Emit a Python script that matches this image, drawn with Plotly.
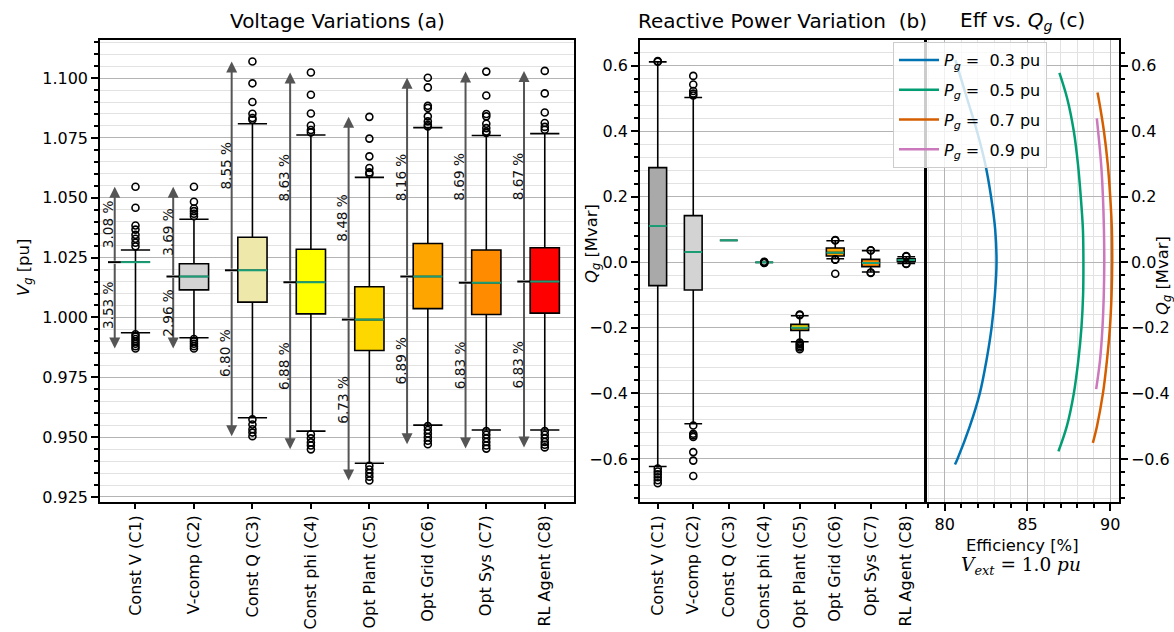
import plotly.graph_objects as go

W, H = 1174, 632

# ---------------- data ----------------
categories = ["Const V (C1)", "V-comp (C2)", "Const Q (C3)", "Const phi (C4)",
              "Opt Plant (C5)", "Opt Grid (C6)", "Opt Sys (C7)", "RL Agent (C8)"]
positions = [1, 2, 3, 4, 5, 6, 7, 8]
fill_colors = ["#a9a9a9", "#d3d3d3", "#eee8aa", "#ffff00",
               "#ffd700", "#ffa500", "#ff8c00", "#ff0000"]

# Panel (a) voltage statistics
v_q1 = [1.0231, 1.0115, 1.0064, 1.0015, 0.9862, 1.0037, 1.0012, 1.0018]
v_med = [1.0231, 1.0171, 1.0197, 1.0147, 0.9991, 1.0171, 1.0145, 1.0150]
v_q3 = [1.0231, 1.0224, 1.0335, 1.0285, 1.0128, 1.0309, 1.0282, 1.0291]
v_lo = [0.9936, 0.9915, 0.9581, 0.9525, 0.9391, 0.9550, 0.9530, 0.9530]
v_hi = [1.0282, 1.0410, 1.0809, 1.0762, 1.0585, 1.0793, 1.0760, 1.0768]
v_out_hi = [
    [1.0546, 1.0458, 1.0384, 1.0367, 1.0345, 1.0329, 1.0312, 1.0297],
    [1.0546, 1.0483, 1.0455, 1.0444, 1.0433, 1.0423],
    [1.1069, 1.0978, 1.0900, 1.0851, 1.0833, 1.0826],
    [1.1023, 1.0930, 1.0852, 1.0802, 1.0783, 1.0773],
    [1.0838, 1.0747, 1.0673, 1.0624, 1.0606, 1.0599],
    [1.1001, 1.0961, 1.0884, 1.0875, 1.0840, 1.0819, 1.0805, 1.0798],
    [1.1027, 1.0927, 1.0850, 1.0840, 1.0809, 1.0791, 1.0777, 1.0771],
    [1.1030, 1.0936, 1.0856, 1.0812, 1.0796, 1.0784],
]
v_out_lo = [
    [0.9930, 0.9920, 0.9910, 0.9900, 0.9890, 0.9880, 0.9870],
    [0.9910, 0.9900, 0.9890, 0.9880, 0.9870],
    [0.9574, 0.9553, 0.9533, 0.9519, 0.9504],
    [0.9512, 0.9495, 0.9478, 0.9465, 0.9449],
    [0.9380, 0.9365, 0.9350, 0.9335, 0.9319],
    [0.9546, 0.9530, 0.9515, 0.9500, 0.9485, 0.9470],
    [0.9525, 0.9510, 0.9495, 0.9480, 0.9465, 0.9452],
    [0.9525, 0.9510, 0.9495, 0.9480, 0.9468, 0.9457],
]
up_pct = ["3.08", "3.69", "8.55", "8.63", "8.48", "8.16", "8.69", "8.67"]
down_pct = ["3.53", "2.96", "6.80", "6.88", "6.73", "6.89", "6.83", "6.83"]

# Panel (b) reactive power statistics
q_q1 = [-0.071, -0.0846, 0.0672, 0.0, -0.2076, 0.0193, -0.013, 0.003]
q_med = [0.111, 0.0315, 0.0672, 0.0, -0.1995, 0.0296, -0.002, 0.007]
q_q3 = [0.289, 0.1426, 0.0672, 0.0, -0.1893, 0.0437, 0.009, 0.011]
q_lo = [-0.623, -0.4926, 0.0672, 0.0, -0.2425, 0.011, -0.0296, -0.003]
q_hi = [0.6116, 0.503, 0.0672, 0.0, -0.163, 0.066, 0.0357, 0.017]
q_out = [
    [0.614, 0.6125, -0.629, -0.638, -0.647, -0.656, -0.665, -0.674],
    [0.569, 0.5425, 0.523, 0.515, 0.509, -0.498, -0.523, -0.528, -0.533, -0.579, -0.605, -0.652],
    [],
    [0.002, 0.001, -0.001, -0.002],
    [-0.161, -0.159, -0.245, -0.25, -0.255, -0.26, -0.265],
    [0.068, 0.067, 0.009, 0.008, -0.035],
    [0.037, 0.036, -0.031, -0.032],
    [0.018, 0.019, -0.004, -0.005],
]

# Panel (c) efficiency curves (Q [Mvar], efficiency [%])
p_labels = ["0.3", "0.5", "0.7", "0.9"]
p_colors = ["#0173b2", "#029e73", "#d55e00", "#cc78bc"]
curve_q = [
    [-0.617, -0.6, -0.5, -0.4, -0.3, -0.2, -0.1, 0.0, 0.1, 0.2, 0.3, 0.4, 0.5, 0.6, 0.617],
    [-0.577, -0.5, -0.4, -0.3, -0.2, -0.1, 0.0, 0.1, 0.2, 0.3, 0.4, 0.5, 0.578],
    [-0.551, -0.5, -0.4, -0.3, -0.2, -0.1, 0.0, 0.1, 0.2, 0.3, 0.4, 0.5, 0.518],
    [-0.387, -0.3, -0.2, -0.1, 0.0, 0.1, 0.2, 0.3, 0.439],
]
curve_eff = [
    [80.62, 80.77, 81.52, 82.12, 82.52, 82.83, 83.03, 83.13, 83.05, 82.80, 82.45, 81.95, 81.35, 80.75, 80.65],
    [86.87, 87.38, 87.80, 88.07, 88.26, 88.36, 88.38, 88.35, 88.22, 88.05, 87.80, 87.40, 86.93],
    [88.95, 89.20, 89.56, 89.80, 89.98, 90.08, 90.12, 90.10, 90.00, 89.85, 89.62, 89.30, 89.23],
    [89.15, 89.38, 89.53, 89.61, 89.64, 89.62, 89.56, 89.45, 89.19],
]

# ---------------- figure ----------------
FONT = "DejaVu Sans"
fig = go.Figure()

BOX_W = 0.5
MED_GREEN = "#1a9e76"


def add_boxes(xa, ya, q1, med, q3, lo, hi):
    for i, p in enumerate(positions):
        fig.add_trace(go.Box(
            x=[p], q1=[q1[i]], median=[med[i]], q3=[q3[i]],
            lowerfence=[lo[i]], upperfence=[hi[i]],
            width=BOX_W, whiskerwidth=1, boxpoints=False,
            fillcolor=fill_colors[i], line=dict(color="black", width=1.6),
            xaxis=xa, yaxis=ya, showlegend=False, hoverinfo="skip"))


# panel (a)
add_boxes("x", "y", v_q1, v_med, v_q3, v_lo, v_hi)
stub_x, stub_y, med_x, med_y = [], [], [], []
for i, p in enumerate(positions):
    stub_x += [p - 0.47, p - BOX_W / 2, None]
    stub_y += [v_med[i], v_med[i], None]
    med_x += [p - BOX_W / 2, p + BOX_W / 2, None]
    med_y += [v_med[i], v_med[i], None]
fig.add_trace(go.Scatter(x=stub_x, y=stub_y, mode="lines", line=dict(color="black", width=2),
                         xaxis="x", yaxis="y", showlegend=False, hoverinfo="skip"))
fig.add_trace(go.Scatter(x=med_x, y=med_y, mode="lines", line=dict(color=MED_GREEN, width=2),
                         xaxis="x", yaxis="y", showlegend=False, hoverinfo="skip"))
ox, oy = [], []
for i, p in enumerate(positions):
    for v in v_out_hi[i] + v_out_lo[i]:
        ox.append(p)
        oy.append(v)
fig.add_trace(go.Scatter(x=ox, y=oy, mode="markers",
                         marker=dict(symbol="circle-open", size=7, color="black", line=dict(width=1.6)),
                         xaxis="x", yaxis="y", showlegend=False, hoverinfo="skip"))

# panel (b)
add_boxes("x2", "y2", q_q1, q_med, q_q3, q_lo, q_hi)
mx2, my2 = [], []
for i, p in enumerate(positions):
    mx2 += [p - BOX_W / 2, p + BOX_W / 2, None]
    my2 += [q_med[i], q_med[i], None]
fig.add_trace(go.Scatter(x=mx2, y=my2, mode="lines", line=dict(color=MED_GREEN, width=2),
                         xaxis="x2", yaxis="y2", showlegend=False, hoverinfo="skip"))
ox2, oy2 = [], []
for i, p in enumerate(positions):
    for v in q_out[i]:
        ox2.append(p)
        oy2.append(v)
fig.add_trace(go.Scatter(x=ox2, y=oy2, mode="markers",
                         marker=dict(symbol="circle-open", size=7, color="black", line=dict(width=1.6)),
                         xaxis="x2", yaxis="y2", showlegend=False, hoverinfo="skip"))

# panel (c)
for k in range(len(p_labels)):
    fig.add_trace(go.Scatter(
        x=curve_eff[k], y=curve_q[k], mode="lines",
        line=dict(color=p_colors[k], width=2.5, shape="spline"),
        name="<i>P</i><sub><i>g</i></sub> =  " + p_labels[k] + " pu",
        legendgroup=str(k),
        xaxis="x3", yaxis="y3"))

# ---------------- axes ----------------
top_px, bot_px = 40, 502
ydom = [1 - bot_px / H, 1 - top_px / H]
axis_common = dict(showline=True, linecolor="black", linewidth=1.5, mirror=True,
                   ticks="outside", tickcolor="black", tickwidth=1.5,
                   tickfont=dict(family=FONT, size=16, color="black"),
                   zeroline=False, automargin=False)
MAJ_GRID = "#b4b4b4"
MIN_GRID = "#e2e2e2"

fig.update_layout(
    xaxis=dict(domain=[100 / W, 574 / W], range=[0.393, 8.5], tickmode="array",
               tickvals=positions, ticktext=categories, tickangle=-90, ticklen=5,
               showgrid=False, anchor="y", **axis_common),
    yaxis=dict(domain=ydom, range=[0.9229, 1.1159], tick0=0, dtick=0.025, tickformat=".3f",
               ticklen=7, showgrid=True, gridcolor=MAJ_GRID, gridwidth=1.3,
               minor=dict(dtick=0.005, ticks="outside", ticklen=4, tickcolor="black",
                          showgrid=True, gridcolor=MIN_GRID, gridwidth=1.3),
               anchor="x", **axis_common),
    xaxis2=dict(domain=[640 / W, 924 / W], range=[0.5, 8.5], tickmode="array",
                tickvals=positions, ticktext=categories, tickangle=-90, ticklen=5,
                showgrid=False, anchor="y2", **axis_common),
    yaxis2=dict(domain=ydom, range=[-0.7313, 0.6785], tick0=0, dtick=0.2, tickformat=".1f",
                ticklen=7, showgrid=True, gridcolor=MAJ_GRID, gridwidth=1.3,
                minor=dict(dtick=0.04, ticks="outside", ticklen=4, tickcolor="black",
                           showgrid=True, gridcolor=MIN_GRID, gridwidth=1.3),
                anchor="x2", **axis_common),
    xaxis3=dict(domain=[927 / W, 1119 / W], range=[78.93, 90.53], tick0=0, dtick=5,
                ticklen=7, showgrid=True, gridcolor=MAJ_GRID, gridwidth=1.3,
                minor=dict(dtick=1, ticks="outside", ticklen=4, tickcolor="black",
                           showgrid=True, gridcolor=MIN_GRID, gridwidth=1.3),
                anchor="y3", **axis_common),
    yaxis3=dict(domain=ydom, range=[-0.7313, 0.6785], tick0=0, dtick=0.2, tickformat=".1f",
                side="right", ticklen=7, showgrid=True, gridcolor=MAJ_GRID, gridwidth=1.3,
                minor=dict(dtick=0.04, ticks="outside", ticklen=4, tickcolor="black",
                           showgrid=True, gridcolor=MIN_GRID, gridwidth=1.3),
                anchor="x3", **axis_common),
)

# ---------------- annotations ----------------
ann = []


def paper_text(text, xp, yp, size, angle=0, family=FONT):
    ann.append(dict(text=text, x=xp / W, y=1 - yp / H, xref="paper", yref="paper",
                    showarrow=False, xanchor="center", yanchor="middle", textangle=angle,
                    font=dict(family=family, size=size, color="black")))


paper_text("Voltage Variations (a)", 337, 21, 20)
paper_text("Reactive Power Variation  (b)", 782, 21, 20)
paper_text("Eff vs. <i>Q</i><sub><i>g</i></sub> (c)", 1022, 21, 20)
paper_text("<i>V</i><sub><i>g</i></sub> [pu]", 24, 268, 16.4, -90)
paper_text("<i>Q</i><sub><i>g</i></sub> [Mvar]", 592, 243, 16.4, -90)
paper_text("<i>Q</i><sub><i>g</i></sub> [Mvar]", 1163, 276, 16.4, -90)
paper_text("Efficiency [%]", 1022, 545, 16.4)
paper_text("<i>V</i><sub><i>ext</i></sub> = 1.0 <i>pu</i>", 1021, 566, 18.5, 0, "DejaVu Serif")

ARROW_OFF = 0.355
for i, p in enumerate(positions):
    xa = p - ARROW_OFF
    vmax = max(v_out_hi[i])
    vmin = min(v_out_lo[i])
    for vend, lab in ((vmax, up_pct[i]), (vmin, down_pct[i])):
        ann.append(dict(x=xa, y=vend, ax=xa, ay=v_med[i], xref="x", yref="y",
                        axref="x", ayref="y", text="", showarrow=True, arrowhead=2,
                        arrowsize=1.1, arrowwidth=2, arrowcolor="#555555"))
        ann.append(dict(x=xa, y=(vend + v_med[i]) / 2, xref="x", yref="y", xshift=-6,
                        text=lab + " %", showarrow=False, textangle=-90,
                        xanchor="center", yanchor="middle",
                        font=dict(family=FONT, size=13.6, color="#111111")))

fig.update_layout(
    annotations=ann,
    width=W, height=H,
    margin=dict(l=0, r=0, t=0, b=0),
    paper_bgcolor="white", plot_bgcolor="white",
    font=dict(family=FONT, size=16, color="black"),
    showlegend=True,
    legend=dict(x=893 / W, y=1 - 42 / H, xanchor="left", yanchor="top",
                bgcolor="rgba(255,255,255,0.8)", bordercolor="#cccccc", borderwidth=1,
                font=dict(family=FONT, size=16, color="black"), tracegroupgap=6,
                itemwidth=40),
)

fig.write_html("out.html")
